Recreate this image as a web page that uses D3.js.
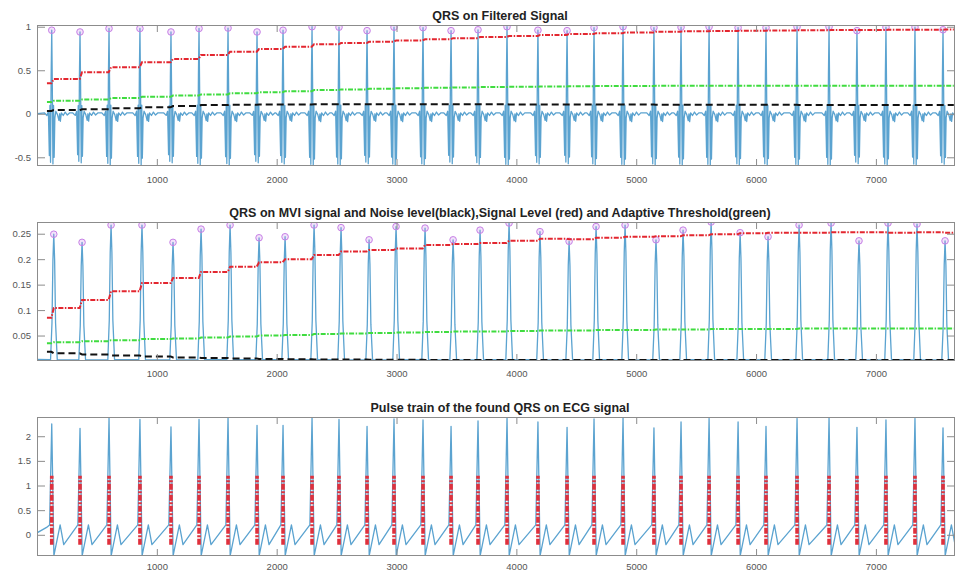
<!DOCTYPE html>
<html>
<head>
<meta charset="utf-8">
<script src="https://cdn.jsdelivr.net/npm/d3@7"></script>
<style>
  body { margin: 0; background: #fff; }
  svg text { font-family: "Liberation Sans", Arial, Helvetica, sans-serif; }
</style>
</head>
<body>
<svg id="chart" width="960" height="573"></svg>
<script>
// ---- data ----
const sampleMax = 7660;
const sampleTicks = [1000, 2000, 3000, 4000, 5000, 6000, 7000];

const titles = [
  "QRS on Filtered Signal",
  "QRS on MVI signal and Noise level(black),Signal Level (red) and Adaptive Threshold(green)",
  "Pulse train of the found QRS on ECG signal"
];

// QRS positions in samples
const beatSamples = [123, 359, 601, 859, 1118, 1352, 1594, 1836, 2053, 2295, 2520, 2754, 2979, 3221,
  3455, 3680, 3922, 4180, 4423, 4648, 4890, 5148, 5374, 5608, 5850, 6083, 6342, 6609, 6842, 7084, 7326, 7560];

// peak heights per beat
const filtPeaks = [0.96, 0.94, 0.98, 0.98, 0.94, 0.98, 0.985, 0.94, 0.96, 1.0, 0.995, 0.955, 0.995, 0.99,
  0.955, 0.965, 1.0, 0.96, 0.955, 0.99, 1.0, 0.99, 0.995, 1.0, 0.99, 0.99, 1.0, 1.0, 0.955, 0.995, 0.995, 0.965];
const mviPeaks = [0.249, 0.233, 0.267, 0.267, 0.233, 0.259, 0.267, 0.242, 0.244, 0.267, 0.262, 0.238, 0.264,
  0.261, 0.238, 0.257, 0.271, 0.254, 0.235, 0.264, 0.267, 0.238, 0.257, 0.273, 0.252, 0.244, 0.267, 0.271,
  0.236, 0.271, 0.269, 0.236];
const ecgPeaks = [2.25, 2.16, 2.37, 2.34, 2.19, 2.34, 2.38, 2.22, 2.22, 2.38, 2.34, 2.2, 2.35, 2.33, 2.2, 2.31,
  2.38, 2.29, 2.18, 2.35, 2.37, 2.17, 2.29, 2.36, 2.29, 2.2, 2.36, 2.38, 2.18, 2.33, 2.36, 2.17];

// levels: starting value, then the value after each beat
const filtSignalLevel = [0.35, 0.40, 0.477, 0.534, 0.592, 0.63, 0.676, 0.713, 0.744, 0.771, 0.798, 0.812, 0.827,
  0.842, 0.856, 0.869, 0.882, 0.894, 0.905, 0.916, 0.926, 0.935, 0.943, 0.948, 0.952, 0.955, 0.958, 0.96, 0.962,
  0.962, 0.964, 0.966, 0.968];
const filtThreshold = [0.135, 0.15, 0.165, 0.18, 0.195, 0.21, 0.222, 0.235, 0.248, 0.26, 0.272, 0.28, 0.287, 0.293,
  0.298, 0.303, 0.307, 0.311, 0.314, 0.316, 0.318, 0.32, 0.321, 0.321, 0.322, 0.322, 0.322, 0.322, 0.322, 0.322,
  0.322, 0.323, 0.323];
const filtNoiseLevel = [0.032, 0.042, 0.052, 0.063, 0.075, 0.088, 0.1, 0.104, 0.107, 0.108, 0.109, 0.109, 0.109,
  0.11, 0.11, 0.109, 0.109, 0.108, 0.108, 0.107, 0.107, 0.106, 0.105, 0.104, 0.104, 0.103, 0.103, 0.102, 0.102,
  0.101, 0.101, 0.1, 0.1];
const mviSignalLevel = [0.085, 0.104, 0.12, 0.137, 0.153, 0.163, 0.175, 0.185, 0.194, 0.2, 0.208, 0.215, 0.218,
  0.221, 0.228, 0.23, 0.232, 0.236, 0.24, 0.239, 0.242, 0.244, 0.245, 0.247, 0.249, 0.251, 0.252, 0.252, 0.253,
  0.253, 0.252, 0.253, 0.252];
const mviThreshold = [0.035, 0.037, 0.039, 0.041, 0.043, 0.044, 0.046, 0.048, 0.05, 0.051, 0.053, 0.054, 0.055,
  0.056, 0.057, 0.058, 0.058, 0.059, 0.06, 0.06, 0.061, 0.061, 0.062, 0.062, 0.063, 0.063, 0.063, 0.064, 0.064,
  0.064, 0.064, 0.064, 0.064];
const mviNoiseLevel = [0.018, 0.015, 0.013, 0.011, 0.009, 0.007, 0.006, 0.005, 0.004, 0.0035, 0.003, 0.0028,
  0.0026, 0.0024, 0.0022, 0.002, 0.002, 0.002, 0.002, 0.002, 0.002, 0.002, 0.002, 0.002, 0.002, 0.002, 0.002,
  0.002, 0.002, 0.002, 0.002, 0.002, 0.002];

// beat shapes: [sample offset from the beat, value relative to the beat's peak]
const filtShape = [[-60, 0.01], [-40, -0.02], [-28, 0.03], [-20, -0.5], [-15, 0.1], [-10, -0.58], [-5, 0.45],
  [0, 1], [5, 0.3], [10, -0.6], [15, 0.1], [20, -0.52], [26, -0.05], [34, 0.03], [48, -0.01], [60, -0.08],
  [66, 0.0], [72, -0.09], [80, 0.01], [96, -0.02], [112, 0.02], [130, -0.015], [148, 0.01]];
const mviShape = [[-10, 0.01], [2, 0.3], [10, 0.8], [17, 1], [24, 0.8], [32, 0.3], [46, 0.01]];
// ECG shape: [offset, value], null = the R peak of that beat
const ecgShape = [[-18, 0.2], [0, null], [18, -0.42], [70, 0.2], [100, -0.2]];
const ecgStart = [[0, 0.04], [80, 0.15]];

const mviDelay = 17;      // MVI peak lags the filtered peak
const levelStart = 83;    // first located peak
const pulseRange = [-0.2, 1.2];

const yDomains = [[-0.6, 1.02], [0, 0.273], [-0.43, 2.39]];
const yTicks = [[-0.5, 0, 0.5, 1], [0.05, 0.1, 0.15, 0.2, 0.25], [0, 0.5, 1, 1.5, 2]];

// ---- layout ----
const plotLeft = 37, plotRight = 955;
const panels = [{ top: 25, bottom: 166, pad: 10 }, { top: 222, bottom: 361, pad: 9 }, { top: 417, bottom: 556, pad: 7 }];
const blue = "#5ba3d0";

const svg = d3.select("#chart");
const x = d3.scaleLinear().domain([0, sampleMax]).range([plotLeft, plotRight]);

const byX = (a, b) => a[0] - b[0];
const inRange = n => n[0] >= 0 && n[0] <= sampleMax;

// filtered signal
const filtNodes = [[0, 0]];
beatSamples.forEach((b, i) => filtShape.forEach(([dx, v]) => filtNodes.push([b + dx, v * filtPeaks[i]])));
filtNodes.push([sampleMax, 0]);

// MVI signal
const mviNodes = [[0, 0.003]];
beatSamples.forEach((b, i) => mviShape.forEach(([dx, v]) => mviNodes.push([b + dx, v * mviPeaks[i]])));
mviNodes.push([sampleMax, 0.002]);

// raw ECG
const ecgNodes = ecgStart.slice();
beatSamples.forEach((b, i) => ecgShape.forEach(([dx, v]) => ecgNodes.push([b + dx, v === null ? ecgPeaks[i] : v])));

function levelNodes(levels) {
  const nodes = [[levelStart, levels[0]]];
  beatSamples.forEach((b, i) => {
    const at = b + mviDelay;
    nodes.push([at - 20, levels[i]], [at, levels[i + 1]]);
  });
  nodes.push([sampleMax - 10, levels[levels.length - 1]]);
  return nodes;
}

const defs = svg.append("defs");

function drawPanel(k, signal, levels, markers) {
  const p = panels[k];
  const y = d3.scaleLinear().domain(yDomains[k]).range([p.bottom, p.top]);
  const g = svg.append("g");

  defs.append("clipPath").attr("id", "clip" + k)
    .append("rect").attr("x", plotLeft).attr("y", p.top)
    .attr("width", plotRight - plotLeft).attr("height", p.bottom - p.top);

  const data = g.append("g").attr("clip-path", `url(#clip${k})`);
  const line = d3.line().x(d => x(d[0])).y(d => y(d[1]));

  data.append("path")
    .attr("d", line(signal.filter(inRange).sort(byX)))
    .attr("fill", "none").attr("stroke", blue).attr("stroke-width", 1.3)
    .attr("stroke-linejoin", "round");

  if (markers) {
    data.append("g").selectAll("circle").data(markers).join("circle")
      .attr("cx", d => x(d[0])).attr("cy", d => y(d[1])).attr("r", 3.3)
      .attr("fill", "rgba(205,140,235,0.25)").attr("stroke", "#c77fe6").attr("stroke-width", 1);
  }

  if (levels) {
    const styles = [
      { v: levels.noise, c: "#111", dash: "7,4" },
      { v: levels.signal, c: "#e3262f", dash: "5,1.5,1.5,1.5" },
      { v: levels.thr, c: "#3fdc3f", dash: "5,1.5,1.5,1.5" }
    ];
    styles.forEach(s => {
      data.append("path").attr("d", line(levelNodes(s.v)))
        .attr("fill", "none").attr("stroke", s.c).attr("stroke-width", 2)
        .attr("stroke-dasharray", s.dash);
    });
  }

  if (k === 2) {
    data.append("g").selectAll("line").data(beatSamples).join("line")
      .attr("x1", d => x(d)).attr("x2", d => x(d))
      .attr("y1", y(pulseRange[0])).attr("y2", y(pulseRange[1]))
      .attr("stroke", "#e0303c").attr("stroke-width", 3.6)
      .attr("stroke-dasharray", "6,1.5,2,1.5");
  }

  // axes with inward ticks on all sides
  const axisColor = "#8c8c8c";
  const fmt = d => String(d);
  g.append("g").attr("transform", `translate(0,${p.bottom})`)
    .call(d3.axisBottom(x).tickValues(sampleTicks).tickFormat(fmt).tickSizeInner(-7).tickSizeOuter(0).tickPadding(p.pad));
  g.append("g").attr("transform", `translate(0,${p.top})`)
    .call(d3.axisTop(x).tickValues(sampleTicks).tickFormat("").tickSizeInner(-7).tickSizeOuter(0));
  g.append("g").attr("transform", `translate(${plotLeft},0)`)
    .call(d3.axisLeft(y).tickValues(yTicks[k]).tickFormat(fmt).tickSizeInner(-8).tickSizeOuter(0).tickPadding(6));
  g.append("g").attr("transform", `translate(${plotRight},0)`)
    .call(d3.axisRight(y).tickValues(yTicks[k]).tickFormat("").tickSizeInner(-8).tickSizeOuter(0));

  g.selectAll(".domain").remove();
  g.selectAll(".tick line").attr("stroke", axisColor);
  g.selectAll(".tick text").attr("fill", "#555").attr("font-size", 9.5)
    .attr("font-family", '"Liberation Sans", Arial, sans-serif');

  g.append("rect").attr("x", plotLeft + 0.5).attr("y", p.top + 0.5)
    .attr("width", plotRight - plotLeft - 1).attr("height", p.bottom - p.top - 1)
    .attr("fill", "none").attr("stroke", axisColor).attr("stroke-width", 1);

  g.append("text").attr("x", 500).attr("y", p.top - 5.5)
    .attr("text-anchor", "middle").attr("font-size", 12.5).attr("font-weight", "bold")
    .attr("fill", "#222").text(titles[k]);
}

drawPanel(0, filtNodes,
  { signal: filtSignalLevel, thr: filtThreshold, noise: filtNoiseLevel },
  beatSamples.map((b, i) => [b, filtPeaks[i]]));
drawPanel(1, mviNodes,
  { signal: mviSignalLevel, thr: mviThreshold, noise: mviNoiseLevel },
  beatSamples.map((b, i) => [b + mviDelay, mviPeaks[i]]));
drawPanel(2, ecgNodes, null, null);
</script>
</body>
</html>
